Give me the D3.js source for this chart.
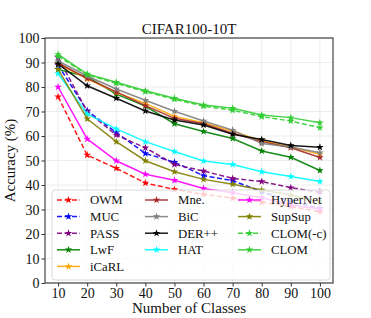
<!DOCTYPE html>
<html>
<head>
<meta charset="utf-8">
<script src="https://cdn.jsdelivr.net/npm/d3@7"></script>
<style>
  body { margin: 0; background: #fff; }
  text { font-family: "Liberation Serif", "DejaVu Serif", serif; fill: #111; }
</style>
</head>
<body>
<svg id="chart" width="371" height="318"></svg>
<script>
// x values (number of classes)
var classes = [10, 20, 30, 40, 50, 60, 70, 80, 90, 100]
var yTicks = [0, 10, 20, 30, 40, 50, 60, 70, 80, 90, 100]

// accuracies
var owm      = [76.0, 52.2, 46.8, 40.8, 38.2, 36.2, 34.6, 33.0, 31.2, 29.1]
var muc      = [89.0, 70.3, 61.4, 52.9, 49.3, 43.8, 41.8, 37.3, 33.2, 30.5]
var pass     = [92.0, 70.0, 60.4, 55.2, 48.4, 45.7, 42.7, 41.4, 38.9, 37.0]
var lwf      = [87.2, 84.2, 77.1, 72.2, 65.0, 61.8, 59.0, 53.9, 51.3, 45.9]
var icarl    = [89.5, 83.3, 77.8, 73.3, 68.0, 65.4, 62.0, 58.0, 55.5, 52.5]
var mne      = [89.8, 83.5, 78.0, 72.4, 67.2, 65.0, 61.1, 57.7, 55.2, 51.2]
var bic      = [90.6, 84.5, 79.2, 74.6, 70.1, 66.1, 62.4, 56.9, 55.5, 53.2]
var derpp    = [89.4, 80.5, 75.4, 70.2, 66.5, 64.5, 60.7, 58.6, 56.1, 55.4]
var hat      = [85.5, 69.0, 62.9, 57.7, 53.7, 49.8, 48.4, 45.4, 43.5, 41.4]
var hypernet = [80.0, 58.8, 49.9, 44.4, 41.9, 38.6, 36.8, 34.8, 31.8, 30.2]
var supsup   = [87.2, 67.0, 57.7, 49.9, 45.4, 42.3, 40.3, 38.0, 35.9, 33.2]
var clomC    = [92.6, 85.0, 81.5, 78.1, 75.0, 72.2, 70.5, 67.9, 66.1, 63.4]
var clom     = [93.3, 85.3, 81.9, 78.5, 75.4, 72.7, 71.3, 68.6, 67.5, 65.4]

var seriesNames  = ["OWM", "MUC", "PASS", "LwF", "iCaRL", "Mne.", "BiC", "DER++", "HAT", "HyperNet", "SupSup", "CLOM(-c)", "CLOM"]
var seriesValues = [owm, muc, pass, lwf, icarl, mne, bic, derpp, hat, hypernet, supsup, clomC, clom]
var seriesColors = ["#ff0000", "#0000ff", "#800080", "#008000", "#ffa500", "#a52a2a", "#808080", "#000000", "#00ffff", "#ff00ff", "#808000", "#32cd32", "#32cd32"]
var seriesDashed = [true, true, true, false, false, false, false, false, false, false, false, true, false]

var svg = d3.select("#chart")
var pLeft = 45, pRight = 333, pTop = 38, pBottom = 283

var xScale = d3.scaleLinear().domain([5.5, 104.5]).range([pLeft, pRight])
var yScale = d3.scaleLinear().domain([0, 100]).range([pBottom, pTop])

svg.append("rect").attr("x", 0).attr("y", 0).attr("width", 371).attr("height", 318).attr("fill", "#fff")

// grid
svg.append("g").selectAll("line").data(classes).enter().append("line")
    .attr("x1", function(d) { return xScale(d) }).attr("x2", function(d) { return xScale(d) })
    .attr("y1", pTop).attr("y2", pBottom)
    .attr("stroke", "#e8e8e8").attr("stroke-width", 0.8)
svg.append("g").selectAll("line").data(yTicks).enter().append("line")
    .attr("x1", pLeft).attr("x2", pRight)
    .attr("y1", function(d) { return yScale(d) }).attr("y2", function(d) { return yScale(d) })
    .attr("stroke", "#e8e8e8").attr("stroke-width", 0.8)

// axes
var xAxis = svg.append("g").attr("transform", "translate(0," + pBottom + ")")
    .call(d3.axisBottom(xScale).tickValues(classes).tickSize(3.5).tickPadding(2).tickSizeOuter(0))
var yAxis = svg.append("g").attr("transform", "translate(" + pLeft + ",0)")
    .call(d3.axisLeft(yScale).tickValues(yTicks).tickSize(3.5).tickPadding(2).tickSizeOuter(0))
xAxis.select(".domain").remove()
yAxis.select(".domain").remove()
xAxis.selectAll("text").style("font-size", "14px").style("font-family", "Liberation Serif").attr("fill", "#111")
yAxis.selectAll("text").style("font-size", "14px").style("font-family", "Liberation Serif").attr("fill", "#111").attr("dy", "0.35em")
svg.selectAll(".tick line").attr("stroke", "#333")

var line = d3.line()
    .x(function(d, i) { return xScale(classes[i]) })
    .y(function(d) { return yScale(d) })

var star = d3.symbol().type(d3.symbolStar).size(18)

seriesValues.forEach(function(vals, k) {
    var g = svg.append("g")
    g.append("path")
        .attr("d", line(vals))
        .attr("fill", "none")
        .attr("stroke", seriesColors[k])
        .attr("stroke-width", 1.5)
        .attr("stroke-dasharray", seriesDashed[k] ? "5,2.5" : null)
        .attr("opacity", 0.9)
    g.selectAll("path.pt").data(vals).enter().append("path")
        .attr("class", "pt")
        .attr("d", star)
        .attr("transform", function(d, i) { return "translate(" + xScale(classes[i]) + "," + yScale(d) + ")" })
        .attr("fill", seriesColors[k])
})

// frame
svg.append("rect").attr("x", pLeft).attr("y", pTop).attr("width", pRight - pLeft).attr("height", pBottom - pTop)
    .attr("fill", "none").attr("stroke", "#444").attr("stroke-width", 1.2)

// legend
var lg = svg.append("g")
lg.append("rect").attr("x", 52).attr("y", 190).attr("width", 278).attr("height", 90).attr("rx", 3)
    .attr("fill", "#fff").attr("fill-opacity", 0.8).attr("stroke", "#d0d0d0").attr("stroke-width", 0.8)
var colX = [57, 145, 238]
var colOf = [0, 0, 0, 0, 0, 1, 1, 1, 1, 2, 2, 2, 2]
var rowOf = [0, 1, 2, 3, 4, 0, 1, 2, 3, 0, 1, 2, 3]
seriesNames.forEach(function(name, k) {
    var x0 = colX[colOf[k]], y0 = 200 + rowOf[k] * 16.6
    lg.append("line").attr("x1", x0).attr("x2", x0 + 23).attr("y1", y0).attr("y2", y0)
        .attr("stroke", seriesColors[k]).attr("stroke-width", 1.5)
        .attr("stroke-dasharray", seriesDashed[k] ? "5,2.5" : null).attr("opacity", 0.9)
    lg.append("path").attr("d", star).attr("transform", "translate(" + (x0 + 11.5) + "," + y0 + ")")
        .attr("fill", seriesColors[k])
    lg.append("text").attr("x", x0 + 33).attr("y", y0).attr("dy", "0.35em")
        .style("font-size", "12.8px").text(name)
})

// title and labels
svg.append("text").attr("x", 189).attr("y", 34).attr("text-anchor", "middle")
    .style("font-size", "15px").text("CIFAR100-10T")
svg.append("text").attr("x", 189).attr("y", 313).attr("text-anchor", "middle")
    .style("font-size", "15px").text("Number of Classes")
svg.append("text").attr("transform", "translate(15," + ((pTop + pBottom) / 2) + ") rotate(-90)")
    .attr("text-anchor", "middle").style("font-size", "15px").text("Accuracy (%)")
</script>
</body>
</html>
